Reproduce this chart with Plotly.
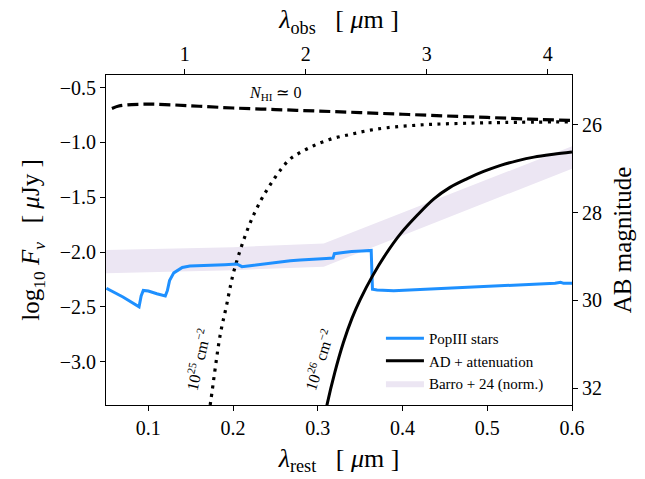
import plotly.graph_objects as go

ONE_PLUS_Z = 7.0
FONT = "Liberation Serif"

# PopIII stars (blue)
pop_x = [0.0505, 0.07, 0.089, 0.0915, 0.094, 0.1, 0.11, 0.12, 0.1225, 0.125, 0.13, 0.1355,
         0.14, 0.149, 0.16, 0.17, 0.18, 0.19, 0.2045, 0.2104, 0.22, 0.23, 0.24, 0.255, 0.2675,
         0.2793, 0.29, 0.3, 0.31, 0.318, 0.3195, 0.33, 0.34, 0.352, 0.362, 0.363, 0.3645,
         0.37, 0.3896, 0.41, 0.43, 0.45, 0.476, 0.5, 0.52, 0.54, 0.56, 0.58, 0.5866, 0.59, 0.6]
pop_y = [-2.33, -2.41, -2.50, -2.40, -2.35, -2.355, -2.38, -2.40, -2.35, -2.26, -2.19, -2.158,
         -2.14, -2.127, -2.125, -2.122, -2.12, -2.115, -2.109, -2.133, -2.125, -2.115, -2.105, -2.09, -2.079,
         -2.073, -2.07, -2.062, -2.058, -2.055, -2.015, -2.005, -1.995, -1.99, -1.982, -1.985, -2.339,
         -2.345, -2.352, -2.345, -2.34, -2.332, -2.324, -2.318, -2.31, -2.30, -2.292, -2.285, -2.276, -2.285, -2.285]

# AD + attenuation (N_HI = 1e26), solid black
ad_x = [0.305, 0.3109, 0.32, 0.33, 0.3404, 0.35, 0.3641, 0.38, 0.3975, 0.417, 0.437, 0.456,
        0.4764, 0.4957, 0.5157, 0.535, 0.555, 0.578, 0.6]
ad_y = [-3.62, -3.391, -3.10, -2.83, -2.603, -2.434, -2.224, -2.022, -1.834, -1.667, -1.515, -1.41,
        -1.33, -1.265, -1.209, -1.168, -1.134, -1.108, -1.088]

# N_HI ~ 0, dashed black
free_x = [0.057, 0.065, 0.075, 0.09, 0.105, 0.13, 0.16, 0.2, 0.25, 0.3, 0.35, 0.4, 0.45, 0.5, 0.55, 0.6]
free_y = [-0.69, -0.668, -0.657, -0.652, -0.651, -0.658, -0.670, -0.686, -0.700, -0.714, -0.728,
          -0.743, -0.758, -0.772, -0.787, -0.800]

# N_HI = 1e25, dotted black
d25_x = [0.170, 0.1738, 0.1848, 0.192, 0.2013, 0.219, 0.2329, 0.2447, 0.2577, 0.2675, 0.2773,
         0.295, 0.3168, 0.3384, 0.358, 0.3818, 0.425, 0.47, 0.52, 0.6]
d25_y = [-3.55, -3.35, -2.755, -2.497, -2.164, -1.755, -1.527, -1.376, -1.233, -1.15, -1.10,
         -1.03, -0.966, -0.927, -0.894, -0.866, -0.839, -0.826, -0.818, -0.812]

# Barro+24 band (normalised)
band_x = [0.05, 0.2, 0.307, 0.6]
band_hi = [-1.982, -1.955, -1.921, -1.036]
band_lo = [-2.194, -2.165, -2.133, -1.239]

x_ticks = [0.1, 0.2, 0.3, 0.4, 0.5, 0.6]
x_ticklabels = ["0.1", "0.2", "0.3", "0.4", "0.5", "0.6"]
obs_ticks = [1, 2, 3, 4]
y_ticks = [-3.0, -2.5, -2.0, -1.5, -1.0, -0.5]
y_ticklabels = ["\u22123.0", "\u22122.5", "\u22122.0", "\u22121.5", "\u22121.0", "\u22120.5"]
mag_ticks = [26, 28, 30, 32]

X_RANGE = [0.05, 0.6]
Y_RANGE = [-3.395, -0.385]

BLUE = "#1E90FF"
BAND = "#ECE6F3"

fig = go.Figure()

fig.add_trace(go.Scatter(
    x=band_x + band_x[::-1], y=band_hi + band_lo[::-1],
    fill="toself", fillcolor=BAND, mode="lines", line=dict(width=0, color=BAND),
    name="Barro + 24 (norm.)", legendrank=3, hoverinfo="skip"))

fig.add_trace(go.Scatter(
    x=free_x, y=free_y, mode="lines", line=dict(color="black", width=3.2, dash="11px,5px", shape="spline"),
    showlegend=False, hoverinfo="skip"))

fig.add_trace(go.Scatter(
    x=d25_x, y=d25_y, mode="lines", line=dict(color="black", width=3.2, dash="3px,5.5px", shape="spline"),
    showlegend=False, hoverinfo="skip"))

fig.add_trace(go.Scatter(
    x=pop_x, y=pop_y, mode="lines", line=dict(color=BLUE, width=3),
    name="PopIII stars", legendrank=1, hoverinfo="skip"))

fig.add_trace(go.Scatter(
    x=ad_x, y=ad_y, mode="lines", line=dict(color="black", width=3, shape="spline"),
    name="AD + attenuation", legendrank=2, hoverinfo="skip"))

# dummy trace to activate the secondary (top / right) axes
fig.add_trace(go.Scatter(x=[2], y=[28], xaxis="x2", yaxis="y2", mode="markers",
                         marker=dict(opacity=0), showlegend=False, hoverinfo="skip"))

axis_common = dict(showgrid=False, zeroline=False, showline=True, linecolor="black", linewidth=1,
                   ticks="outside", ticklen=5, tickwidth=1, tickcolor="black",
                   tickfont=dict(family=FONT, size=20, color="black"))

fig.update_layout(
    width=645, height=479,
    margin=dict(l=106, r=73, t=75, b=74),
    plot_bgcolor="white", paper_bgcolor="white",
    font=dict(family=FONT, color="black"),
    xaxis=dict(range=X_RANGE, tickvals=x_ticks, ticktext=x_ticklabels,
               title=dict(text="<i>λ</i><sub>rest</sub>   [ <i>μ</i>m ]", font=dict(size=26), standoff=10),
               **axis_common),
    xaxis2=dict(range=[X_RANGE[0] * ONE_PLUS_Z, X_RANGE[1] * ONE_PLUS_Z], tickvals=obs_ticks,
                overlaying="x", side="top", anchor="y",
                title=dict(text="<i>λ</i><sub>obs</sub>   [ <i>μ</i>m ]", font=dict(size=26), standoff=6),
                **axis_common),
    yaxis=dict(range=Y_RANGE, tickvals=y_ticks, ticktext=y_ticklabels,
               title=dict(text="log<sub>10</sub> <i>F</i><sub><i>ν</i></sub>   [ <i>μ</i>Jy ]", font=dict(size=25), standoff=12),
               **axis_common),
    yaxis2=dict(range=[23.9 - 2.5 * Y_RANGE[0], 23.9 - 2.5 * Y_RANGE[1]], tickvals=mag_ticks,
                overlaying="y", side="right", anchor="x",
                title=dict(text="AB magnitude", font=dict(size=25), standoff=12),
                **axis_common),
    legend=dict(x=0.59, y=0.015, xanchor="left", yanchor="bottom", bgcolor="rgba(0,0,0,0)",
                font=dict(family=FONT, size=15, color="black"), tracegroupgap=0, itemwidth=38),
    showlegend=True,
)

fig.add_annotation(x=0.2498, y=-0.555, xref="x", yref="y", showarrow=False,
                   text="<i>N</i><sub>HI</sub> \u2243 0", font=dict(family=FONT, size=16, color="black"))
fig.add_annotation(x=0.1576, y=-2.98, xref="x", yref="y", showarrow=False, textangle=-77,
                   text="10<sup>25</sup> cm<sup>\u22122</sup>", font=dict(family=FONT, size=16, color="black"))
fig.add_annotation(x=0.3006, y=-2.98, xref="x", yref="y", showarrow=False, textangle=-72,
                   text="10<sup>26</sup> cm<sup>\u22122</sup>", font=dict(family=FONT, size=16, color="black"))

fig.write_html("out.html")
